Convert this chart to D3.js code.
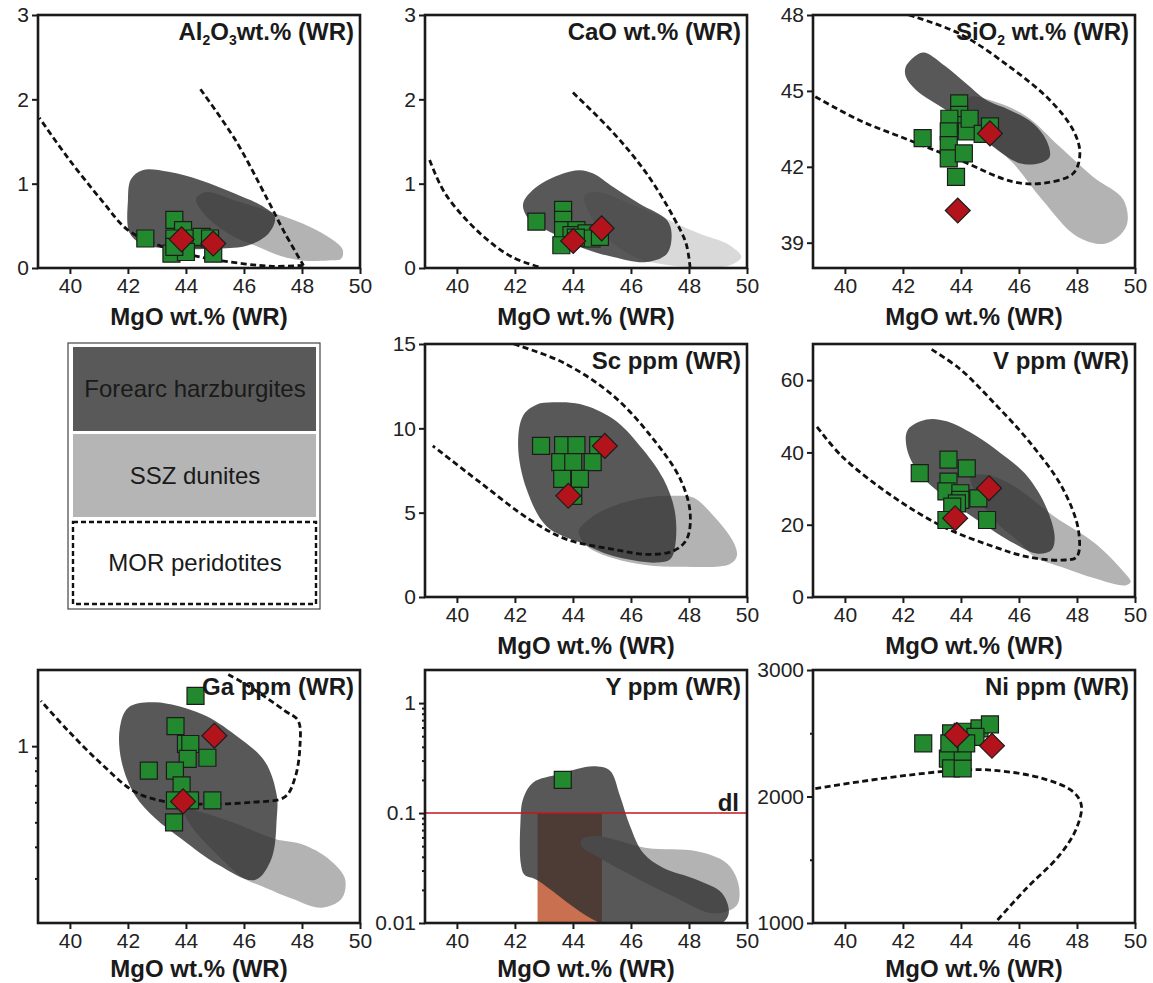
<!DOCTYPE html>
<meta charset="utf-8">
<style>
  body { margin: 0; background: #fff; }
  svg { display: block; }
  text { font-family: "Liberation Sans", Arial, sans-serif; fill: #1a1a1a; }
  .tick text { font-size: 21px; fill: #222; }
  .tick line { stroke: #1a1a1a; stroke-width: 2; }
  .frame { fill: none; stroke: #1a1a1a; stroke-width: 2.6; }
  .xtitle, .ptitle, .dl { font-weight: bold; font-size: 24px; }
  .mor { fill: none; stroke: #111; stroke-width: 2.8; stroke-dasharray: 6,3.5; }
  .sq { fill: #23892f; stroke: #1c1c1c; stroke-width: 1.2; }
  .dia { fill: #b3141b; stroke: #1c1c1c; stroke-width: 1.2; }
</style>
<body>
<svg id="chart"></svg>
<script src="https://cdn.jsdelivr.net/npm/d3@7"></script>
<script>
var width = 1153, height = 983;

var xTicks = [40, 42, 44, 46, 48, 50];

// Al2O3
var al2o3Squares = [[42.6,0.35],[43.6,0.57],[43.9,0.45],[43.6,0.35],[44.3,0.35],[44.54,0.37],[44.83,0.35],[43.5,0.17],[44.0,0.19],[44.94,0.17],[43.6,0.25]];
var al2o3Diamonds = [[43.85,0.34],[44.94,0.29]];
var al2o3Forearc = [[42.0,0.8],[42.1,1.05],[42.5,1.16],[43.4,1.14],[44.5,1.04],[45.7,0.88],[46.7,0.72],[47.07,0.6],[46.85,0.41],[46.15,0.27],[45.1,0.23],[43.4,0.23],[42.45,0.29],[42.05,0.42]];
var al2o3Ssz = [[44.35,0.82],[44.7,0.9],[45.7,0.8],[46.8,0.68],[48.0,0.53],[48.9,0.37],[49.4,0.22],[49.35,0.11],[48.9,0.09],[48.0,0.09],[47.3,0.14],[46.5,0.25],[45.5,0.4],[44.6,0.65]];
var al2o3Mor = [
  [[44.5,2.12],[45.7,1.52],[46.8,0.82],[47.4,0.42],[48.05,0.03]],
  [[48.05,0.03],[47.0,0.02],[46.0,0.05],[44.5,0.13],[43.2,0.25],[42.0,0.45],[41.1,0.8],[39.9,1.32],[38.95,1.78]]
];

// CaO
var caoSquares = [[42.74,0.55],[43.66,0.69],[43.66,0.57],[43.66,0.45],[44.12,0.45],[43.95,0.39],[44.47,0.41],[44.64,0.35],[44.93,0.37],[43.6,0.27],[44.1,0.36]];
var caoDiamonds = [[44.01,0.32],[44.99,0.47]];
var caoForearc = [[42.28,0.76],[42.74,0.96],[43.66,1.12],[44.24,1.16],[44.7,1.12],[45.39,0.96],[46.31,0.76],[47.24,0.57],[47.4,0.41],[47.24,0.17],[46.54,0.07],[45.39,0.13],[44.24,0.25],[43.32,0.41],[42.5,0.57]];
var caoSsz = [[44.4,0.86],[44.85,0.9],[45.97,0.76],[47.12,0.6],[48.27,0.42],[49.4,0.27],[49.8,0.13],[49.4,0.03],[48.27,0.01],[47.2,0.04],[46.2,0.12],[45.3,0.32],[44.6,0.62]];
var caoMor = [
  [[39.06,1.28],[39.6,0.88],[40.8,0.41],[41.9,0.13],[42.86,0.01]],
  [[44.0,2.08],[45.4,1.6],[46.54,1.12],[47.47,0.6],[47.9,0.29],[48.04,0.0]]
];

// SiO2
var sio2Squares = [[42.68,43.13],[43.94,44.51],[43.94,44.05],[44.0,43.65],[43.6,43.9],[43.58,43.4],[43.58,42.86],[43.58,42.33],[44.1,42.53],[44.2,43.4],[44.3,43.9],[43.83,41.6],[44.75,43.3],[45.0,43.6]];
var sio2Diamonds = [[45.0,43.32],[43.89,40.27]];
var sio2Forearc = [[42.1,45.96],[42.56,46.48],[42.8,46.5],[43.48,45.96],[44.17,45.3],[44.87,44.64],[45.67,44.25],[46.48,43.72],[46.94,43.06],[47.06,42.4],[46.71,42.14],[46.02,42.14],[45.1,42.8],[44.4,43.45],[43.48,44.25],[42.45,45.04],[42.1,45.56]];
var sio2Ssz = [[44.3,44.75],[45.1,44.6],[46.25,44.0],[47.4,42.8],[48.56,41.6],[49.6,40.7],[49.7,39.65],[49.0,38.97],[48.0,39.25],[46.8,40.7],[45.8,42.14],[44.7,43.3],[44.3,44.2]];
var sio2Mor = [
  [[42.2,48.0],[43.94,47.27],[45.67,45.96],[47.06,44.64],[47.87,43.45],[48.1,42.53],[47.87,41.74],[46.83,41.35],[45.79,41.41],[43.94,42.27],[42.2,43.06],[40.48,43.85],[38.98,44.77]]
];

// Sc
var scSquares = [[42.9,8.96],[43.66,9.0],[44.12,9.0],[44.87,9.0],[43.56,8.0],[44.01,8.0],[44.68,8.0],[43.63,7.0],[44.24,7.0],[44.01,6.0]];
var scDiamonds = [[45.1,8.96],[43.84,6.0]];
var scForearc = [[42.28,10.75],[42.74,11.4],[43.3,11.54],[44.24,11.44],[45.39,10.55],[46.31,8.96],[47.12,6.99],[47.52,5.0],[47.52,3.0],[47.35,2.24],[46.89,2.04],[45.39,2.43],[44.24,3.23],[43.09,4.2],[42.4,6.4],[42.11,8.96]];
var scSsz = [[44.2,3.9],[44.7,4.8],[45.4,5.4],[46.5,5.9],[47.5,6.0],[48.15,5.9],[48.85,4.8],[49.54,3.23],[49.65,2.43],[49.4,1.94],[47.7,1.8],[46.5,1.9],[45.4,2.3],[44.5,3.0]];
var scMor = [
  [[41.96,15.0],[43.66,13.9],[45.39,11.93],[46.77,9.36],[47.7,6.99],[48.04,5.0],[47.92,3.42],[47.46,2.73],[46.54,2.53],[45.39,2.83],[43.78,3.42],[42.5,4.6],[40.8,6.79],[39.17,8.96]]
];

// V
var vSquares = [[42.58,34.3],[43.57,38],[44.2,35.6],[43.57,31.9],[43.5,29.2],[43.98,28.7],[43.98,26.9],[43.86,25.9],[43.7,25],[44.6,27.3],[43.5,21.3],[44.9,21.3]];
var vDiamonds = [[44.97,30.1],[43.8,21.8]];
var vForearc = [[42.17,46.3],[42.81,49.1],[43.51,48.6],[44.56,44.4],[45.37,39.8],[46.19,34.3],[46.88,25.9],[47.23,16.7],[47.12,13.0],[46.65,12.0],[45.84,14.8],[44.56,21.3],[43.28,28.7],[42.47,35.2],[42.12,41.7]];
var vSsz = [[44.33,33.3],[44.9,33.8],[45.84,30.6],[47.23,22.2],[48.63,14.8],[49.56,7.4],[49.85,4.2],[49.67,3.2],[48.63,5.1],[47.47,8.3],[46.54,11.1],[46.07,14.8],[45.14,21.3],[44.45,29.6]];
var vMor = [
  [[42.99,68.5],[43.98,63],[45.14,53.7],[46.3,43.5],[47.47,30.6],[48.05,18.5],[47.99,11.1],[47.47,10.2],[46.3,11.1],[45.14,13.9],[43.4,19.4],[41.65,27.8],[39.9,38.9],[38.98,47.7]]
];

// Ga
var gaSquares = [[44.33,1.58],[43.64,1.2],[44.0,1.02],[44.15,1.02],[44.06,0.89],[44.74,0.9],[42.72,0.8],[43.62,0.8],[43.85,0.7],[43.62,0.61],[44.14,0.61],[44.91,0.61],[43.59,0.5]];
var gaDiamonds = [[44.98,1.1],[43.9,0.605]];
var gaForearc = [[42.01,1.42],[42.93,1.49],[44.54,1.34],[45.69,1.11],[46.72,0.87],[47.13,0.64],[47.13,0.52],[46.95,0.36],[46.38,0.296],[45.11,0.34],[43.85,0.43],[42.93,0.52],[42.24,0.64],[41.78,0.87],[41.72,1.18]];
var gaSsz = [[43.9,0.57],[44.5,0.55],[45.6,0.5],[47.07,0.43],[48.0,0.41],[48.9,0.36],[49.48,0.3],[49.37,0.25],[48.68,0.23],[47.64,0.25],[46.6,0.28],[46.0,0.3],[45.0,0.38],[44.2,0.48]];
var gaMor = [
  [[45.46,1.92],[46.26,1.7],[47.41,1.38],[47.87,1.26],[47.93,1.0],[47.76,0.75],[47.41,0.63],[46.26,0.6],[44.54,0.59],[43.39,0.6],[42.24,0.66],[41.09,0.85],[39.94,1.15],[39.0,1.51]]
];

// Y
var ySquares = [[43.65,0.2]];
var yForearc = [[42.2,0.035],[42.19,0.082],[42.28,0.134],[42.63,0.19],[43.55,0.227],[44.7,0.267],[45.27,0.244],[45.62,0.144],[45.97,0.076],[46.43,0.043],[47.12,0.0316],[48.27,0.0247],[49.14,0.0186],[49.37,0.0122],[49.08,0.0098],[46.5,0.0096],[45.0,0.0099],[42.74,0.0247],[42.33,0.0274]];
var ySsz = [[44.3,0.0575],[44.82,0.0617],[46.54,0.048],[48.27,0.0449],[49.3,0.035],[49.7,0.0229],[49.65,0.0145],[48.85,0.0122],[47.47,0.0174],[46.08,0.0265],[44.82,0.0404],[44.3,0.05]];
var yDetection = 0.1;
var yDlBox = [[42.78,0.01],[45.0,0.1]];

// Ni
var niSquares = [[42.7,2420],[43.66,2499],[44.06,2512],[43.55,2300],[43.66,2222],[44.06,2222],[44.06,2354],[44.64,2538],[45.0,2570],[44.5,2472],[44.18,2420],[43.6,2420]];
var niDiamonds = [[43.86,2486],[45.07,2401]];
var niMor = [
  [[38.98,2063],[40.48,2116],[42.2,2169],[43.94,2208],[45.1,2208],[46.83,2142],[47.87,2037],[48.15,1931],[47.98,1747],[47.4,1536],[46.25,1272],[45.2,1008]]
];

var legendItems = ["Forearc harzburgites", "SSZ dunites", "MOR peridotites"];

var colLeft = [38, 425, 813];
var rowTop = [15, 344, 670];
var pw = 322, ph = 253;

var panels = [
  {col: 0, row: 0, title: [["Al"], ["2", "sub"], ["O"], ["3", "sub"], ["wt.% (WR)"]], y: d3.scaleLinear().domain([0, 3]),
   ticks: [0, 1, 2, 3], squares: al2o3Squares, diamonds: al2o3Diamonds, forearc: al2o3Forearc, ssz: al2o3Ssz, mor: al2o3Mor, sszFill: "#b3b3b3"},
  {col: 1, row: 0, title: [["CaO wt.% (WR)"]], y: d3.scaleLinear().domain([0, 3]),
   ticks: [0, 1, 2, 3], squares: caoSquares, diamonds: caoDiamonds, forearc: caoForearc, ssz: caoSsz, mor: caoMor, sszFill: "#d9d9d9"},
  {col: 2, row: 0, title: [["SiO"], ["2", "sub"], [" wt.% (WR)"]], y: d3.scaleLinear().domain([38, 48]),
   ticks: [39, 42, 45, 48], squares: sio2Squares, diamonds: sio2Diamonds, forearc: sio2Forearc, ssz: sio2Ssz, mor: sio2Mor, sszFill: "#b3b3b3"},
  {col: 1, row: 1, title: [["Sc ppm (WR)"]], y: d3.scaleLinear().domain([0, 15]),
   ticks: [0, 5, 10, 15], squares: scSquares, diamonds: scDiamonds, forearc: scForearc, ssz: scSsz, mor: scMor, sszFill: "#b3b3b3"},
  {col: 2, row: 1, title: [["V ppm (WR)"]], y: d3.scaleLinear().domain([0, 70]),
   ticks: [0, 20, 40, 60], squares: vSquares, diamonds: vDiamonds, forearc: vForearc, ssz: vSsz, mor: vMor, sszFill: "#b3b3b3"},
  {col: 0, row: 2, title: [["Ga ppm (WR)"]], y: d3.scaleLog().domain([0.2, 2]),
   ticks: [1], minor: [0.3, 0.4, 0.5, 0.6, 0.7, 0.8, 0.9], squares: gaSquares, diamonds: gaDiamonds, forearc: gaForearc, ssz: gaSsz, mor: gaMor, sszFill: "#b3b3b3"},
  {col: 1, row: 2, title: [["Y ppm (WR)"]], y: d3.scaleLog().domain([0.01, 2]),
   ticks: [0.01, 0.1, 1], minor: [0.02, 0.03, 0.04, 0.05, 0.06, 0.07, 0.08, 0.09, 0.2, 0.3, 0.4, 0.5, 0.6, 0.7, 0.8, 0.9],
   squares: ySquares, diamonds: [], forearc: yForearc, ssz: ySsz, mor: [], sszFill: "#b3b3b3", dl: true},
  {col: 2, row: 2, title: [["Ni ppm (WR)"]], y: d3.scaleLinear().domain([1000, 3000]),
   ticks: [1000, 2000, 3000], minor: [1500, 2500], squares: niSquares, diamonds: niDiamonds, forearc: null, ssz: null, mor: niMor}
];

var svg = d3.select("#chart").attr("width", width).attr("height", height);

var shapeLine = d3.line().curve(d3.curveCatmullRomClosed.alpha(0.5));
var curveLine = d3.line().curve(d3.curveCatmullRom.alpha(0.5));

panels.forEach(function (p, i) {
  var left = colLeft[p.col], top = rowTop[p.row];
  var x = d3.scaleLinear().domain([38.9, 50]).range([0, pw]);
  var y = p.y.range([ph, 0]);
  var g = svg.append("g").attr("transform", "translate(" + left + "," + top + ")");

  g.append("clipPath").attr("id", "clip" + i)
    .append("rect").attr("width", pw).attr("height", ph);
  var plot = g.append("g").attr("clip-path", "url(#clip" + i + ")");

  var pt = function (d) { return [x(d[0]), y(d[1])]; };

  if (p.dl) {
    plot.append("rect")
      .attr("x", x(yDlBox[0][0])).attr("y", y(yDlBox[1][1]))
      .attr("width", x(yDlBox[1][0]) - x(yDlBox[0][0]))
      .attr("height", y(yDlBox[0][1]) - y(yDlBox[1][1]))
      .attr("fill", "#c8704f");
  }
  if (p.ssz) plot.append("path").attr("d", shapeLine(p.ssz.map(pt))).attr("fill", p.sszFill);
  if (p.forearc) plot.append("path").attr("d", shapeLine(p.forearc.map(pt)))
    .attr("fill", "#2e2e2e").attr("fill-opacity", 0.8);

  p.mor.forEach(function (seg) {
    plot.append("path").attr("class", "mor").attr("d", curveLine(seg.map(pt)));
  });

  if (p.dl) {
    plot.append("line").attr("x1", 0).attr("x2", pw)
      .attr("y1", y(yDetection)).attr("y2", y(yDetection))
      .attr("stroke", "#c4161c").attr("stroke-width", 1.6);
    g.append("text").attr("class", "dl").attr("text-anchor", "end")
      .attr("x", pw - 8).attr("y", y(yDetection) - 2).text("dl");
  }

  plot.selectAll(".sq").data(p.squares).enter().append("path")
    .attr("class", "sq")
    .attr("d", d3.symbol(d3.symbolSquare, 289))
    .attr("transform", function (d) { return "translate(" + x(d[0]) + "," + y(d[1]) + ")"; });

  plot.selectAll(".dia").data(p.diamonds).enter().append("path")
    .attr("class", "dia")
    .attr("d", d3.symbol(d3.symbolSquare, 310))
    .attr("transform", function (d) { return "translate(" + x(d[0]) + "," + y(d[1]) + ") rotate(45)"; });

  // axes
  var xa = g.append("g").attr("transform", "translate(0," + ph + ")")
    .call(d3.axisBottom(x).tickValues(xTicks).tickSize(6).tickPadding(4).tickFormat(d3.format("d")));
  xa.select(".domain").remove();

  var ya = g.append("g")
    .call(d3.axisLeft(y).tickValues(p.ticks).tickSize(6).tickPadding(3).tickFormat(function (d) { return String(d); }));
  ya.select(".domain").remove();

  if (p.minor) {
    var ym = g.append("g").call(d3.axisLeft(y).tickValues(p.minor).tickSize(3).tickFormat(""));
    ym.select(".domain").remove();
  }

  g.append("rect").attr("class", "frame").attr("width", pw).attr("height", ph);

  g.append("text").attr("class", "xtitle").attr("text-anchor", "middle")
    .attr("x", pw / 2).attr("y", ph + (p.row === 2 ? 54 : 57)).text("MgO wt.% (WR)");

  var t = g.append("text").attr("class", "ptitle").attr("text-anchor", "end")
    .attr("x", pw - 6).attr("y", 25);
  var shift = 0;
  p.title.forEach(function (part) {
    var s = t.append("tspan").text(part[0]);
    if (part[1] === "sub") {
      s.attr("font-size", 14).attr("dy", 5);
      shift = 5;
    } else if (shift) {
      s.attr("dy", -shift);
      shift = 0;
    }
  });
});

// legend
var lg = svg.append("g");
lg.append("rect").attr("x", 68).attr("y", 343).attr("width", 252).attr("height", 266)
  .attr("fill", "#fff").attr("stroke", "#444").attr("stroke-width", 1.2);
var legendBoxes = [
  {y: 347, h: 84, fill: "#595959", stroke: "none"},
  {y: 434, h: 83, fill: "#b5b5b5", stroke: "none"},
  {y: 522, h: 82, fill: "#fff", stroke: "#111"}
];
legendBoxes.forEach(function (b, i) {
  lg.append("rect").attr("x", 73).attr("y", b.y).attr("width", 243).attr("height", b.h)
    .attr("fill", b.fill).attr("stroke", b.stroke).attr("stroke-width", 2.4)
    .attr("stroke-dasharray", b.stroke === "none" ? null : "5,3");
  lg.append("text").attr("x", 195).attr("y", b.y + b.h / 2 + 8)
    .attr("text-anchor", "middle").attr("font-size", 24).attr("fill", "#1e1e1e")
    .text(legendItems[i]);
});
</script>
</body>
